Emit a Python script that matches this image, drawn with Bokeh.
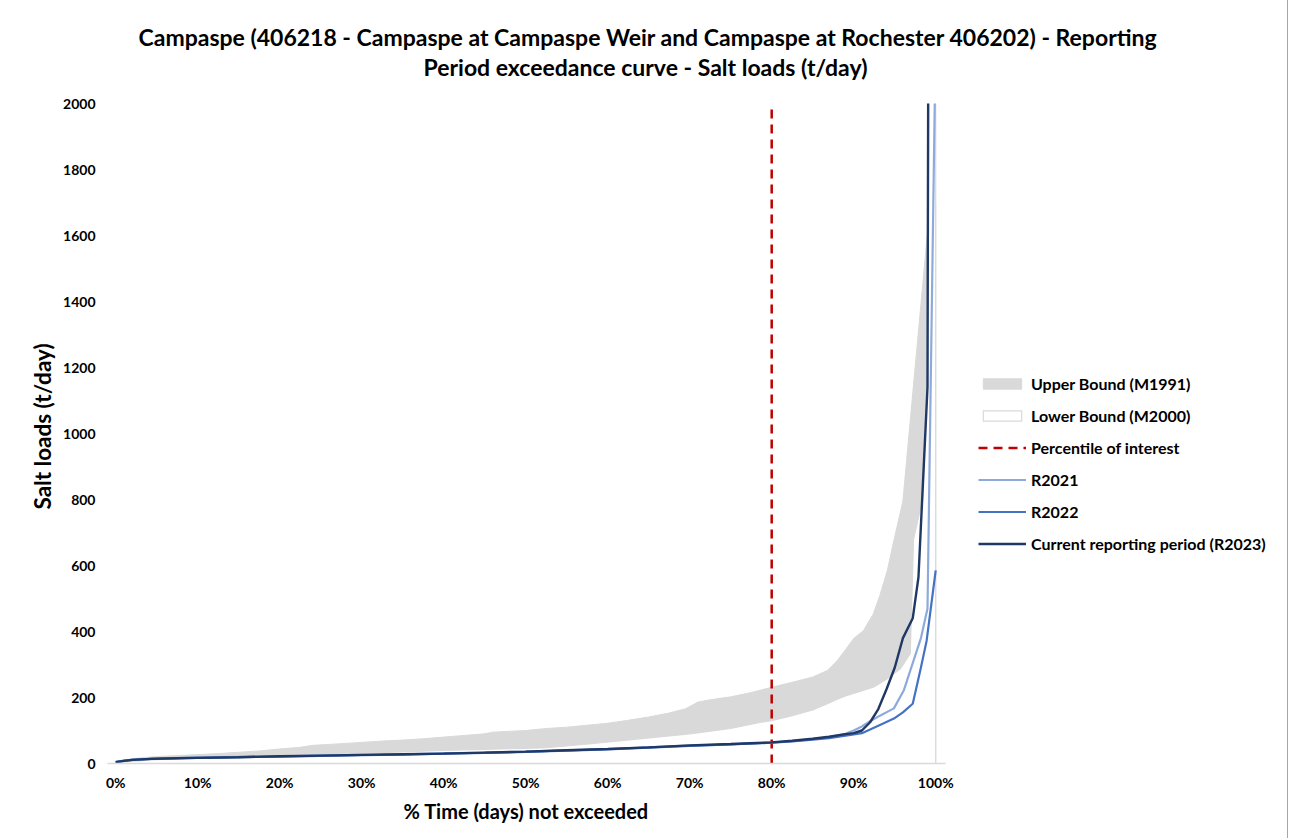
from bokeh.plotting import figure
from bokeh.models import Range1d, FixedTicker, PrintfTickFormatter, Legend, LegendItem, Title
from bokeh.embed import file_html
from bokeh.resources import INLINE

# ---------------- data ----------------
TITLE_LINE_1 = "Campaspe (406218 - Campaspe at Campaspe Weir and Campaspe at Rochester 406202) - Reporting"
TITLE_LINE_2 = "Period exceedance curve - Salt loads (t/day)"
X_LABEL = "% Time (days) not exceeded"
Y_LABEL = "Salt loads (t/day)"
X_TICKS = [0, 10, 20, 30, 40, 50, 60, 70, 80, 90, 100]
Y_TICKS = [0, 200, 400, 600, 800, 1000, 1200, 1400, 1600, 1800, 2000]
PERCENTILE = 80

UB_X = [0, 1, 2, 3, 5, 7.5, 10, 12.5, 15, 17.5, 20, 22.5, 24, 27.5, 30, 32.5, 35, 37.5, 40,
        42.5, 45, 46, 50, 52.5, 55, 57.5, 60, 62.5, 65, 67.5, 69.5, 71, 72.5, 75, 77.5, 80,
        82.5, 85, 86.8, 88, 89, 90, 91.2, 92.4, 93.2, 94.1, 94.9, 96.0, 97.6, 99.0, 100]
UB_Y = [6, 10, 14, 17, 21, 24, 27, 30, 34, 38, 44, 49, 55, 60, 64, 68, 71, 75, 80,
        85, 90, 95, 100, 106, 110, 116, 122, 131, 141, 153, 166, 186, 193, 202, 215, 231,
        246, 262, 282, 312, 345, 379, 403, 454, 510, 585, 676, 795, 1230, 1610, 1700]

LB_X = [0, 5, 10, 15, 20, 25, 30, 35, 40, 45, 50, 52, 55, 58, 62, 66, 70, 72.5, 75, 78.7,
        80, 82.5, 85, 86.8, 88, 89, 90, 92.4, 94, 95.7, 96.9, 97.3, 98.4, 99.0, 99.1, 99.3, 100]
LB_Y = [3, 12, 17, 20, 24, 27, 31, 35, 40, 43, 46, 47, 53, 60, 70, 80, 90, 98, 106, 125,
        130, 145, 162, 181, 195, 205, 212, 231, 255, 287, 333, 680, 800, 1150, 1650, 3000, 6000]

R2021_X = [0, 1, 2, 4.3, 7.5, 10, 15, 20, 25, 30, 35, 40, 45, 50, 55, 60, 65, 70, 75, 80,
           82.5, 85, 87, 89, 90, 91, 92, 93.2, 94.9, 96.1, 97.3, 98.2, 99.0, 100]
R2021_Y = [5, 9, 11, 14, 16, 18, 20, 22, 24, 26, 28, 31, 33, 36, 40, 44, 49, 54, 58, 63,
           68, 74, 80, 90, 100, 112, 128, 145, 167, 221, 312, 380, 470, 2200]

R2022_X = [0, 1, 2, 4.3, 7.5, 10, 15, 20, 25, 30, 35, 40, 45, 50, 55, 60, 65, 70, 75, 80,
           82.5, 85, 87, 89, 90, 91, 92, 93.6, 94.9, 96.0, 97.2, 98.2, 98.9, 100]
R2022_Y = [4, 8, 11, 14, 16, 17, 19, 21, 23, 25, 27, 30, 32, 35, 39, 43, 48, 53, 58, 63,
           67, 72, 77, 84, 88, 92, 103, 121, 136, 155, 181, 291, 373, 585]

R2023_X = [0, 1, 2, 4.3, 7.5, 10, 15, 20, 25, 30, 35, 40, 45, 50, 55, 60, 65, 70, 75, 80,
           82.5, 85, 87, 89, 90, 91, 92, 93, 94, 95, 96.0, 97.2, 97.9, 99.0, 100]
R2023_Y = [4, 8, 11, 14, 16, 17, 19, 22, 24, 26, 28, 30, 33, 36, 40, 44, 49, 55, 59, 64,
           69, 75, 81, 89, 92, 100, 125, 165, 225, 290, 380, 440, 565, 1140, 12000]

FONT = "Lato"
X_AXIS_END = 101.2      # where the category axis line stops
PX_PER_UNIT = 8.2       # horizontal scale of the drawing area

W, H = 1288, 838
LEFT, TOP, BOTTOM = 107, 103, 75
x_end = -1.0 + (W - LEFT) / PX_PER_UNIT   # frame reaches the right edge so legend fits inside

p = figure(width=W, height=H, x_range=Range1d(-1.0, x_end), y_range=Range1d(Y_TICKS[0], Y_TICKS[-1]),
           output_backend="svg", toolbar_location=None,
           min_border_left=LEFT, min_border_right=0, min_border_top=TOP, min_border_bottom=BOTTOM)
p.outline_line_color = None
p.xgrid.visible = False
p.ygrid.visible = False
p.background_fill_color = "white"
p.border_fill_color = "white"
p.styles = {"border-right": "1px solid #a6a6a6"}

# bands
ub = p.patch(UB_X + [UB_X[-1], UB_X[0]], UB_Y + [Y_TICKS[0], Y_TICKS[0]],
             fill_color="#d9d9d9", line_color="#d9d9d9", line_width=1)
lb = p.patch(LB_X + [LB_X[-1], LB_X[0]], LB_Y + [Y_TICKS[0], Y_TICKS[0]],
             fill_color="white", line_color="#d9d9d9", line_width=1.2)

pct = p.segment(x0=[PERCENTILE], y0=[Y_TICKS[0]], x1=[PERCENTILE], y1=[Y_TICKS[-1]],
                line_color="#c00000", line_width=2.5, line_dash="9 6")

r21 = p.line(R2021_X, R2021_Y, line_color="#8eaadb", line_width=2.2)
r22 = p.line(R2022_X, R2022_Y, line_color="#4472c4", line_width=2.2)
r23 = p.line(R2023_X, R2023_Y, line_color="#203864", line_width=2.4)

# axes
p.xaxis.ticker = FixedTicker(ticks=X_TICKS)
p.xaxis.formatter = PrintfTickFormatter(format="%d%%")
p.xaxis.bounds = (-1.0, X_AXIS_END)
p.yaxis.ticker = FixedTicker(ticks=Y_TICKS)
for ax in (p.xaxis, p.yaxis):
    ax.major_tick_line_color = None
    ax.minor_tick_line_color = None
    ax.major_tick_out = 0
    ax.major_tick_in = 0
    ax.major_label_text_font = FONT
    ax.major_label_text_font_style = "bold"
    ax.major_label_text_font_size = "14px"
    ax.major_label_text_color = "#000000"
p.xaxis.axis_line_color = "#d9d9d9"
p.xaxis.axis_line_width = 1.5
p.yaxis.axis_line_color = None
p.xaxis.major_label_standoff = 10
p.yaxis.major_label_standoff = 12

# y axis title (placed like the reference: a little above the middle)
ty = Title(text=Y_LABEL, align="left", offset=254, standoff=10,
           text_font=FONT, text_font_style="bold", text_font_size="22.5px", text_color="#000000")
p.add_layout(ty, "left")

# x axis title, centred under the drawing area (not the whole frame)
tx = Title(text=X_LABEL, align="left", offset=296, standoff=6,
           text_font=FONT, text_font_style="bold", text_font_size="20px", text_color="#000000")
p.add_layout(tx, "below")

# chart title: two lines, centred on the whole chart
t2 = Title(text=TITLE_LINE_2, align="left", offset=316, standoff=46,
           text_font=FONT, text_font_style="bold", text_font_size="23px", text_color="#000000")
t1 = Title(text=TITLE_LINE_1, align="left", offset=31, standoff=-46,
           text_font=FONT, text_font_style="bold", text_font_size="23px", text_color="#000000")
p.add_layout(t2, "above")
p.add_layout(t1, "above")

legend = Legend(items=[
    LegendItem(label="Upper Bound (M1991)", renderers=[ub]),
    LegendItem(label="Lower Bound (M2000)", renderers=[lb]),
    LegendItem(label="Percentile of interest", renderers=[pct]),
    LegendItem(label="R2021", renderers=[r21]),
    LegendItem(label="R2022", renderers=[r22]),
    LegendItem(label="Current reporting period (R2023)", renderers=[r23]),
], location=(871, 210))
legend.glyph_width = 48
legend.glyph_height = 13
legend.label_height = 20
legend.spacing = 12
legend.padding = 0
legend.margin = 0
legend.border_line_color = None
legend.background_fill_alpha = 0
legend.label_text_font = FONT
legend.label_text_font_style = "bold"
legend.label_text_font_size = "16px"
legend.label_text_color = "#000000"
legend.label_standoff = 5
p.add_layout(legend)

open("out.html", "w").write(file_html(p, INLINE))
